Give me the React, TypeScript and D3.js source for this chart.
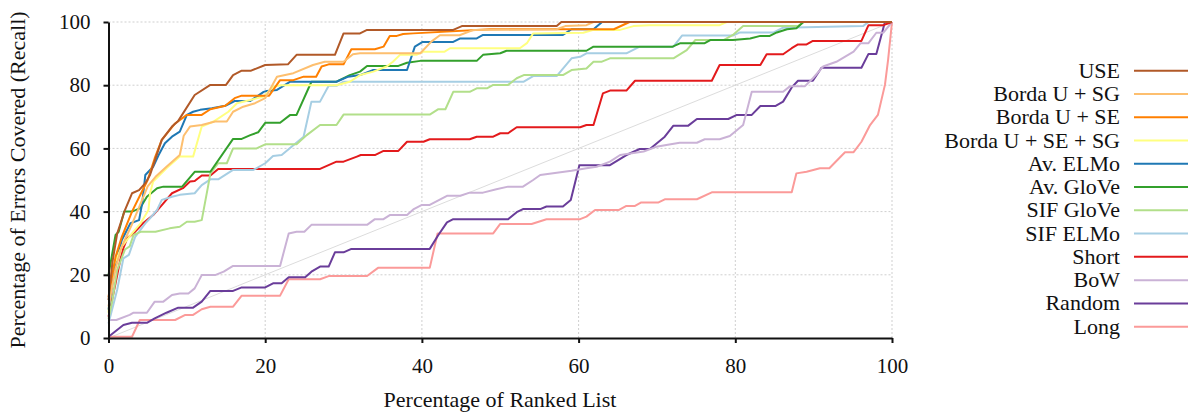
import * as d3 from 'd3'
import React, { useEffect, useRef } from 'react'

type Pt = [number, number]

// recall curves, x = % of ranked list, y = % of errors covered
const useSeries: Pt[] = [[0,12],[0.5,24],[1.1,33],[2.1,40.5],[3,45.8],[3.9,46.8],[4.7,49],[5.3,51.6],[6.8,62.7],[8.1,66.9],[8.9,68.7],[11,76.9],[13,80.1],[15,80.1],[15.9,83.2],[17,84.6],[18.2,84.6],[20,86.4],[22.9,86.6],[24,89.6],[28.9,89.6],[30,96.4],[32.1,96.4],[33,97.5],[44,97.5],[45.1,98.7],[57.2,98.7],[57.8,100],[100,100]]
const bordaSG: Pt[] = [[0,10],[0.9,22],[1.7,29],[3,36],[4,42],[5,48],[6,51],[7.4,54.2],[9.1,57.9],[9.6,64],[10.4,66.9],[11.9,67.4],[13.6,68.5],[15.1,68.5],[15.9,71.6],[17.2,73.2],[18.7,74.3],[20,75.9],[21.5,82.7],[23.6,83.8],[26.1,86.4],[27.6,87.4],[30,87.4],[31.2,89.8],[32.1,90.1],[39.8,90.1],[41.2,93.8],[42.3,95.8],[44.8,95.8],[46.6,97.5],[57.2,97.7],[58.3,98.7],[61,99],[61.9,100],[100,100]]
const bordaSE: Pt[] = [[0,13],[0.9,25.7],[1.7,32],[3,40],[4,45],[5,50],[5.9,56.9],[6.8,62.7],[8.5,67.9],[10,70.6],[11.9,70.6],[13,72.4],[14.9,73.5],[16.1,75.9],[17,76.7],[20.5,76.7],[21.9,81.6],[23.6,81.6],[24.9,82.7],[26.5,82.7],[27.2,85.9],[28.1,86.6],[30,86.6],[31,91.4],[34,91.4],[35.1,92.2],[35.9,95.6],[36.8,95.6],[37.6,96.2],[38.9,96.4],[48.7,97.7],[64.5,97.7],[66.5,100],[100,100]]
const bordaAll: Pt[] = [[0,8],[0.4,21.5],[1.7,28.9],[3,33.1],[4.1,36.3],[5.1,40.5],[5.3,45.8],[5.7,49.5],[7.4,53.7],[9.1,57.4],[10.8,57.4],[11.9,66.9],[13.4,68.5],[15.3,71.6],[16.4,74.3],[18.1,75.3],[19.8,76.4],[21,79.5],[22,80],[29.1,80],[30.8,81.1],[32.1,83.2],[33.8,84.3],[35.5,85.9],[36.3,87.4],[37.2,89.6],[39.3,89.6],[40.2,90.6],[42.9,90.6],[43.6,91.7],[52.5,91.7],[53.4,93.3],[54.2,96.4],[60.6,96.6],[61.9,97.5],[65.3,97.5],[67,98.7],[69,99],[78,99],[78.9,100],[100,100]]
const avElmo: Pt[] = [[0,9],[0.9,23.6],[1.7,31],[2.8,36.3],[3.9,37.3],[4.3,42.6],[4.7,51.6],[5.7,54.2],[6.4,57.9],[7.2,61.6],[8.1,63.7],[9.1,65.3],[10,70.6],[10.8,71.6],[11.7,72.2],[13.2,72.7],[14.9,73.5],[16.1,75],[18.1,75],[19.8,77.9],[20.2,78.2],[21.5,78.5],[23.2,81.1],[29.1,81.1],[30.6,82.7],[32.1,83.2],[33.8,84.8],[38.1,84.8],[39.1,92.2],[40.1,93.7],[44,93.7],[44.9,94.8],[47,94.8],[47.8,95.9],[58,95.9],[59.1,97.7],[61.9,97.7],[63,100],[100,100]]
const avGlove: Pt[] = [[0,20],[0.9,32.6],[1.3,33.6],[2,40],[3,40],[4,41],[4.9,44.7],[6.2,47.4],[7,47.9],[9.4,47.9],[11,52.6],[13,52.6],[15.9,63],[17,63],[18.1,64.2],[19.1,65.1],[20,68.1],[21.9,68.1],[23.2,70.6],[24,70.6],[25.9,81.1],[29.1,81.1],[30.8,83.2],[32.1,84.3],[33,86.1],[37,86.1],[38.1,87.1],[39.8,87.7],[47,87.7],[47.8,89.6],[50,90.1],[50.8,90.9],[61,90.9],[61.9,92.2],[72,92.2],[73,93.3],[76.1,93.3],[76.8,94.3],[79.7,94.3],[81.9,94.8],[83.2,95.6],[84.4,95.6],[85.3,96.7],[86.6,97.7],[87.8,98],[88.7,100],[100,100]]
const sifGlove: Pt[] = [[0,6],[0.5,12],[1.1,21.5],[2.1,28],[2.7,29],[3.2,32.6],[4.1,33.6],[6,33.6],[7.8,34.7],[9.1,35.2],[10,36.8],[11,36.8],[11.9,37.3],[12.7,47.9],[13,52.1],[14,55.3],[15.1,55.3],[15.9,60],[18.9,60],[20,61.3],[24,61.3],[25.3,64.2],[27,67.4],[29.1,67.4],[30,70.7],[41,70.7],[42.1,72.4],[43,72.4],[44,77.9],[46.1,77.9],[47,79],[48.3,79],[49.1,80.1],[51,80.1],[52.1,82.2],[53,83.2],[58,83.2],[59.1,84.8],[61,85.3],[61.9,87.4],[62.9,87.4],[64,88.5],[72.1,88.5],[73.8,91.1],[74.9,94.3],[78.5,94.3],[79.7,95.9],[81,98.7],[88,98.7],[88.7,100],[100,100]]
const sifElmo: Pt[] = [[0,4.6],[1.1,15.2],[1.9,25.2],[2.6,26.3],[3.4,32],[4.7,36.3],[5.3,37.9],[6.2,40.5],[6.8,43.7],[8.1,44.7],[9.1,45.3],[11,45.8],[11.9,48.4],[13,50.2],[14,50.2],[15.9,53.2],[18.5,53.2],[20,55.3],[21,57.6],[22.1,57.9],[24.9,63.7],[25.9,74.8],[27,74.8],[28.1,79.8],[29.1,79.8],[30,81.1],[53,81.1],[54.2,82.9],[57.2,82.9],[59.1,88.5],[60.2,89],[61,90.1],[66.1,90.1],[67.8,92.2],[72.1,92.2],[73.2,95.7],[79.7,95.7],[80.6,96.7],[84.9,96.7],[86.1,98.2],[96.3,98.7],[97,100],[100,100]]
const shortSeries: Pt[] = [[0,6.7],[0.9,17.3],[1.5,24.7],[1.9,28.4],[2.4,31.6],[3.2,33.1],[4.4,36.3],[5.7,38.9],[7,42.6],[8.1,45.8],[9.5,47.4],[10.4,49.5],[11,49.7],[11.9,51.4],[13,51.4],[14,53.5],[27,53.5],[29.1,55.8],[30,55.8],[31.7,57.4],[32.2,57.9],[34,57.9],[35.1,59.2],[37,59.2],[38.1,62.1],[40.2,62.1],[41,62.9],[46.1,62.9],[47,63.7],[49.1,63.7],[50,64.8],[51,64.8],[52.1,66.7],[60.2,66.7],[61,67.4],[61.9,67.4],[63.1,77.4],[64,78.3],[66.1,78.3],[67.2,81.4],[77,81.4],[78,86.4],[83.2,86.4],[84,89.8],[86.1,89.8],[87.2,91.7],[88,92.9],[89.1,92.9],[89.9,94],[96.1,94],[97,99],[98.9,99],[100,100]]
const bow: Pt[] = [[0,5.7],[1,5.7],[2.7,7.3],[3.2,8],[4.9,8],[5.9,11.5],[7,11.5],[8.1,13.6],[9.1,14.1],[10.2,14.1],[11,15.7],[11.9,19.9],[13.6,19.9],[14.7,21],[15.9,22.8],[21.9,22.8],[23,33.1],[24,33.6],[25,33.6],[25.9,35.8],[33,35.8],[34,37.6],[35.1,37.6],[35.9,38.9],[38.1,38.9],[38.9,40.7],[40,42.1],[41,42.1],[43.2,45],[44.9,45],[46.1,46],[47.8,46],[49.5,47.1],[51,47.9],[52.9,47.9],[54.2,50],[55.1,51.6],[59.1,52.9],[61,53.7],[62.3,54.2],[64,55.8],[65.3,57.9],[68.3,59],[69.9,60.5],[71.2,61.1],[72.9,61.8],[75.1,61.8],[76.1,62.9],[78,62.9],[79.3,63.9],[81,67.4],[82.1,77.9],[86.1,77.9],[87,79.7],[88.9,79.7],[89.9,82.2],[91.2,85.9],[92.9,87.4],[95.1,90.6],[96,93.3],[97,93.3],[98,96.6],[98.9,96.6],[100,100]]
const randomSeries: Pt[] = [[0,0.4],[1.9,4.1],[3,4.8],[4.9,4.8],[5.9,6.2],[7.4,8],[8.9,9.6],[10.8,9.6],[11.9,11.5],[13,14.9],[15.9,14.9],[17,16],[20,16],[21,17.3],[22.1,17.3],[23,19.2],[25.1,19.2],[25.9,21],[27,22.6],[28.1,22.6],[28.9,27.1],[30,27.1],[31,28.2],[41,28.2],[42.1,32.6],[43.2,36.6],[44,37.6],[51,37.6],[52.1,39.8],[52.9,40.8],[55.1,40.8],[55.9,41.6],[58,41.6],[59,43.7],[60.1,54.7],[64,54.7],[66.1,57.9],[67.8,59.8],[69.1,59.8],[71,63.7],[72.1,67.2],[74,67.2],[75.1,69.3],[79.1,69.3],[80.2,70.6],[82.1,70.6],[83.2,73.4],[85.1,73.4],[86.1,74.8],[87.2,79.3],[88,81.4],[89.9,81.4],[91,85.5],[96.1,85.5],[97,89.9],[98,89.9],[99.1,100],[100,100]]
const longSeries: Pt[] = [[0,0.4],[3,0.4],[4,5.7],[8.5,5.7],[9.8,7.3],[10.8,7.3],[11.9,9.1],[13,9.9],[15.9,9.9],[17,13.4],[21.9,13.4],[23,18.6],[27,18.6],[28.1,19.6],[33,19.6],[34.4,22.2],[41,22.2],[42,33.1],[49.1,33.1],[50,36.1],[54,36.1],[55.9,37.6],[60.2,37.6],[61,38.4],[62.1,40.5],[65.1,40.5],[66.1,41.8],[67.2,41.8],[68,42.9],[70.2,42.9],[71,43.9],[75.1,43.9],[77,46.1],[87.2,46.1],[87.8,52.1],[89.1,52.6],[90.8,53.7],[92,53.7],[94,58.8],[95.1,58.8],[96.1,62.1],[97.2,67.4],[98.2,70.6],[99.1,80.1],[99.5,88],[100,100]]

const seriesNames = ['USE', 'Borda U + SG', 'Borda U + SE', 'Borda U + SE + SG', 'Av. ELMo', 'Av. GloVe', 'SIF GloVe', 'SIF ELMo', 'Short', 'BoW', 'Random', 'Long']
const seriesData = [useSeries, bordaSG, bordaSE, bordaAll, avElmo, avGlove, sifGlove, sifElmo, shortSeries, bow, randomSeries, longSeries]
const colors = ['#b15928', '#fdbf6f', '#ff7f00', '#ffff80', '#1f78b4', '#33a02c', '#b2df8a', '#a6cee3', '#e31a1c', '#cab2d6', '#6a3d9a', '#fb9a99']
const ticks = [0, 20, 40, 60, 80, 100]

const FONT = '"Liberation Serif", "Times New Roman", serif'

export default function App() {
  const xAxisRef = useRef<SVGGElement>(null)
  const yAxisRef = useRef<SVGGElement>(null)

  const x = d3.scaleLinear().domain([0, 100]).range([108.5, 892])
  const y = d3.scaleLinear().domain([0, 100]).range([338, 22])
  const line = d3.line<Pt>().x(d => x(d[0])).y(d => y(d[1]))

  useEffect(() => {
    const styleAxis = (g: any) => {
      g.select('.domain').attr('stroke', '#111').attr('stroke-width', 2)
      g.selectAll('.tick line').attr('stroke', '#111').attr('stroke-width', 2)
      g.selectAll('.tick text')
        .attr('fill', '#111')
        .style('font-family', FONT)
        .style('font-size', '21px')
    }
    const xg = d3.select(xAxisRef.current)
    xg.call(d3.axisBottom(x).tickValues(ticks).tickSize(5).tickSizeOuter(0).tickPadding(15) as any)
    styleAxis(xg)
    const yg = d3.select(yAxisRef.current)
    yg.call(d3.axisLeft(y).tickValues(ticks).tickSize(5).tickSizeOuter(0).tickPadding(13) as any)
    styleAxis(yg)
  }, [])

  const legendTop = 70.7
  const legendStep = 23.27

  return (
    <svg width="1195" height="412" style={{ position: 'absolute', left: 0, top: 0, background: '#fff' }}>
      {/* grid */}
      <g stroke="#cfcfcf" strokeWidth={1} strokeDasharray="2,2">
        {ticks.slice(1).map(t => (
          <line key={'h' + t} x1={x(0)} x2={x(100)} y1={y(t)} y2={y(t)} />
        ))}
        {ticks.slice(1).map(t => (
          <line key={'v' + t} x1={x(t)} x2={x(t)} y1={y(0)} y2={y(100)} />
        ))}
      </g>
      {/* diagonal */}
      <line x1={x(0)} y1={y(0)} x2={x(100)} y2={y(100)} stroke="#dcdcdc" strokeWidth={1} />

      {seriesData.map((d, i) => i).reverse().map(i => (
        <path key={seriesNames[i]} d={line(seriesData[i]) || ''} fill="none" stroke={colors[i]}
          strokeWidth={2} strokeLinejoin="round" />
      ))}

      <g ref={xAxisRef} transform={`translate(0,${y(0)})`} />
      <g ref={yAxisRef} transform={`translate(${x(0)},0)`} />

      <text transform={`translate(25,180) rotate(-90)`} textAnchor="middle"
        style={{ fontFamily: FONT, fontSize: 22 }} fill="#111">
        Percentage of Errors Covered (Recall)
      </text>
      <text x={500} y={407} textAnchor="middle" style={{ fontFamily: FONT, fontSize: 22 }} fill="#111">
        Percentage of Ranked List
      </text>

      {seriesNames.map((name, i) => {
        const cy = legendTop + i * legendStep
        return (
          <g key={name}>
            <text x={1120} y={cy + 7} textAnchor="end" style={{ fontFamily: FONT, fontSize: 22 }} fill="#111">
              {name}
            </text>
            <line x1={1134} x2={1188} y1={cy} y2={cy} stroke={colors[i]} strokeWidth={2} />
          </g>
        )
      })}
    </svg>
  )
}
